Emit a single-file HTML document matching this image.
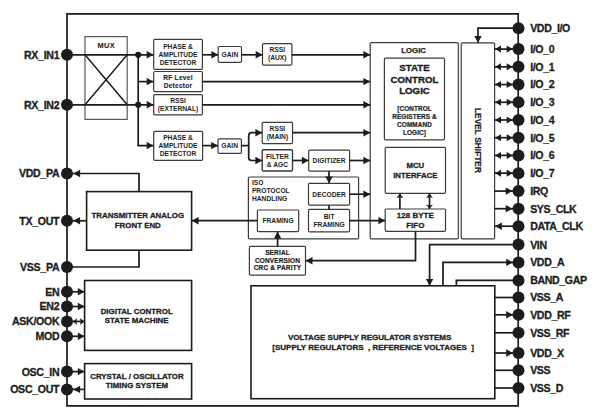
<!DOCTYPE html>
<html><head><meta charset="utf-8"><style>
html,body{margin:0;padding:0;background:#fff;width:600px;height:415px;overflow:hidden}
svg{display:block}
text{font-family:"Liberation Sans",sans-serif;font-weight:bold;fill:#1e1e1e}
</style></head><body>
<svg width="600" height="415" viewBox="0 0 600 415">
<rect x="85" y="36.6" width="42.20" height="82.80" rx="0" fill="#fff" stroke="#5a5a5a" stroke-width="1.2"/>
<rect x="153.7" y="39.4" width="48.70" height="30.00" rx="1.1" fill="#fff" stroke="#3c3c3c" stroke-width="1.2"/>
<rect x="153.7" y="71.5" width="48.70" height="20.10" rx="1.1" fill="#fff" stroke="#3c3c3c" stroke-width="1.2"/>
<rect x="153.7" y="94.6" width="48.70" height="20.20" rx="1.1" fill="#fff" stroke="#3c3c3c" stroke-width="1.2"/>
<rect x="218.2" y="46.5" width="23.30" height="15.80" rx="1.1" fill="#fff" stroke="#3c3c3c" stroke-width="1.2"/>
<rect x="262.5" y="43.7" width="29.40" height="21.40" rx="1.1" fill="#fff" stroke="#3c3c3c" stroke-width="1.2"/>
<rect x="153.7" y="131.4" width="48.90" height="29.00" rx="1.1" fill="#fff" stroke="#3c3c3c" stroke-width="1.2"/>
<rect x="218" y="138.8" width="23.40" height="14.50" rx="1.1" fill="#fff" stroke="#3c3c3c" stroke-width="1.2"/>
<rect x="262.2" y="122.4" width="30.30" height="21.30" rx="1.1" fill="#fff" stroke="#3c3c3c" stroke-width="1.2"/>
<rect x="262.2" y="149.8" width="30.30" height="21.20" rx="1.1" fill="#fff" stroke="#3c3c3c" stroke-width="1.4"/>
<rect x="308.7" y="150.1" width="40.90" height="21.00" rx="1.1" fill="#fff" stroke="#3c3c3c" stroke-width="1.2"/>
<rect x="248.4" y="177" width="110.20" height="61.80" rx="1.1" fill="none" stroke="#3c3c3c" stroke-width="1.2"/>
<rect x="308.5" y="183.3" width="41.10" height="21.90" rx="1.1" fill="#fff" stroke="#3c3c3c" stroke-width="1.2"/>
<rect x="308.5" y="209.4" width="41.10" height="22.40" rx="1.1" fill="#fff" stroke="#3c3c3c" stroke-width="1.2"/>
<rect x="257.4" y="210" width="41.30" height="21.60" rx="1.1" fill="#fff" stroke="#3c3c3c" stroke-width="1.2"/>
<rect x="249.4" y="246.3" width="56.10" height="28.80" rx="1.1" fill="#fff" stroke="#3c3c3c" stroke-width="1.2"/>
<rect x="370.2" y="42.6" width="88.10" height="196.20" rx="1.1" fill="none" stroke="#3c3c3c" stroke-width="1.2"/>
<rect x="384.4" y="58.1" width="60.10" height="81.80" rx="1.1" fill="#fff" stroke="#3c3c3c" stroke-width="1.2"/>
<rect x="385.2" y="147.3" width="60.30" height="46.10" rx="1.1" fill="#fff" stroke="#3c3c3c" stroke-width="1.2"/>
<rect x="385.2" y="209" width="60.30" height="22.40" rx="1.1" fill="#fff" stroke="#3c3c3c" stroke-width="1.2"/>
<rect x="461.2" y="42.8" width="33.40" height="196.00" rx="1.1" fill="none" stroke="#3c3c3c" stroke-width="1.2"/>
<rect x="86.6" y="191.6" width="105.00" height="58.60" rx="0" fill="#fff" stroke="#1c1c1c" stroke-width="1.6"/>
<rect x="84.6" y="280.5" width="107.00" height="69.90" rx="0" fill="#fff" stroke="#1c1c1c" stroke-width="1.6"/>
<rect x="84.6" y="363.6" width="107.00" height="35.40" rx="0" fill="#fff" stroke="#1c1c1c" stroke-width="1.6"/>
<rect x="251" y="285.8" width="243.80" height="112.90" rx="0" fill="#fff" stroke="#1c1c1c" stroke-width="1.6"/>
<path d="M67,405.9 L67,13.8 L518.2,13.8 L518.2,405.9 Z" fill="none" stroke="#1c1c1c" stroke-width="1.7"/>
<line x1="67" y1="54.8" x2="153.7" y2="54.8" stroke="#1c1c1c" stroke-width="1.7"/>
<line x1="67" y1="104.8" x2="153.7" y2="104.8" stroke="#1c1c1c" stroke-width="1.7"/>
<line x1="85" y1="54.8" x2="127.2" y2="104.8" stroke="#1c1c1c" stroke-width="1.45"/>
<line x1="127.2" y1="54.8" x2="85" y2="104.8" stroke="#1c1c1c" stroke-width="1.45"/>
<polyline points="138.2,54.8 138.2,145.6 153.7,145.6" fill="none" stroke="#1c1c1c" stroke-width="1.7" stroke-linejoin="miter"/>
<line x1="138.2" y1="81.6" x2="153.7" y2="81.6" stroke="#1c1c1c" stroke-width="1.7"/>
<polygon points="153.50,54.80 146.70,51.10 146.70,54.80 146.70,58.50" fill="#1c1c1c"/>
<polygon points="153.50,81.60 146.70,77.90 146.70,81.60 146.70,85.30" fill="#1c1c1c"/>
<polygon points="153.50,104.80 146.70,101.10 146.70,104.80 146.70,108.50" fill="#1c1c1c"/>
<polygon points="153.50,145.60 146.70,141.90 146.70,145.60 146.70,149.30" fill="#1c1c1c"/>
<line x1="202.4" y1="54.8" x2="218.2" y2="54.8" stroke="#1c1c1c" stroke-width="1.7"/>
<polygon points="218.20,54.80 211.40,51.10 211.40,54.80 211.40,58.50" fill="#1c1c1c"/>
<line x1="241.5" y1="54.8" x2="262.5" y2="54.8" stroke="#1c1c1c" stroke-width="1.7"/>
<polygon points="262.50,54.80 255.70,51.10 255.70,54.80 255.70,58.50" fill="#1c1c1c"/>
<line x1="291.9" y1="54.8" x2="370.2" y2="54.8" stroke="#1c1c1c" stroke-width="1.7"/>
<polygon points="370.20,54.80 363.40,51.10 363.40,54.80 363.40,58.50" fill="#1c1c1c"/>
<line x1="202.4" y1="81.6" x2="370.2" y2="81.6" stroke="#1c1c1c" stroke-width="1.7"/>
<polygon points="370.20,81.60 363.40,77.90 363.40,81.60 363.40,85.30" fill="#1c1c1c"/>
<line x1="202.4" y1="104.8" x2="370.2" y2="104.8" stroke="#1c1c1c" stroke-width="1.7"/>
<polygon points="370.20,104.80 363.40,101.10 363.40,104.80 363.40,108.50" fill="#1c1c1c"/>
<line x1="202.6" y1="145.6" x2="218" y2="145.6" stroke="#1c1c1c" stroke-width="1.7"/>
<polygon points="218.00,145.60 211.20,141.90 211.20,145.60 211.20,149.30" fill="#1c1c1c"/>
<line x1="241.4" y1="145.6" x2="248.7" y2="145.6" stroke="#1c1c1c" stroke-width="1.7"/>
<path d="M262.2,132.7 L251.70,132.70 Q248.7,132.7 248.70,135.70 L248.70,157.50 Q248.7,160.5 251.70,160.50 L262.2,160.5" fill="none" stroke="#1c1c1c" stroke-width="1.7"/>
<polygon points="262.20,132.70 255.40,129.00 255.40,132.70 255.40,136.40" fill="#1c1c1c"/>
<polygon points="262.20,160.50 255.40,156.80 255.40,160.50 255.40,164.20" fill="#1c1c1c"/>
<line x1="292.5" y1="132.7" x2="370.2" y2="132.7" stroke="#1c1c1c" stroke-width="1.7"/>
<polygon points="370.20,132.70 363.40,129.00 363.40,132.70 363.40,136.40" fill="#1c1c1c"/>
<line x1="292.5" y1="160.5" x2="308.7" y2="160.5" stroke="#1c1c1c" stroke-width="1.7"/>
<polygon points="308.70,160.50 301.90,156.80 301.90,160.50 301.90,164.20" fill="#1c1c1c"/>
<line x1="349.6" y1="160.5" x2="370.2" y2="160.5" stroke="#1c1c1c" stroke-width="1.7"/>
<polygon points="370.20,160.50 363.40,156.80 363.40,160.50 363.40,164.20" fill="#1c1c1c"/>
<line x1="329" y1="171.1" x2="329" y2="183.3" stroke="#1c1c1c" stroke-width="1.7"/>
<polygon points="329.00,183.30 325.30,176.50 329.00,176.50 332.70,176.50" fill="#1c1c1c"/>
<line x1="349.6" y1="194.2" x2="370.2" y2="194.2" stroke="#1c1c1c" stroke-width="1.7"/>
<polygon points="370.20,194.20 363.40,190.50 363.40,194.20 363.40,197.90" fill="#1c1c1c"/>
<line x1="329" y1="205.2" x2="329" y2="209.4" stroke="#1c1c1c" stroke-width="1.7"/>
<line x1="349.6" y1="220.6" x2="385.2" y2="220.6" stroke="#1c1c1c" stroke-width="1.7"/>
<polygon points="385.20,220.60 378.40,216.90 378.40,220.60 378.40,224.30" fill="#1c1c1c"/>
<line x1="191.6" y1="220.6" x2="257.4" y2="220.6" stroke="#1c1c1c" stroke-width="1.7"/>
<polygon points="191.80,220.80 198.60,217.10 198.60,220.80 198.60,224.50" fill="#1c1c1c"/>
<line x1="277.6" y1="246.3" x2="277.6" y2="231.6" stroke="#1c1c1c" stroke-width="1.7"/>
<polygon points="277.60,231.60 273.90,238.40 277.60,238.40 281.30,238.40" fill="#1c1c1c"/>
<polyline points="415.5,231.4 415.5,260.7 305.5,260.7" fill="none" stroke="#1c1c1c" stroke-width="1.7" stroke-linejoin="miter"/>
<polygon points="305.70,260.70 312.50,257.00 312.50,260.70 312.50,264.40" fill="#1c1c1c"/>
<line x1="399.9" y1="209" x2="399.9" y2="193.4" stroke="#1c1c1c" stroke-width="1.7"/>
<polygon points="399.90,193.50 396.50,198.10 399.90,197.20 403.30,198.10" fill="#1c1c1c"/>
<line x1="429.5" y1="209" x2="429.5" y2="193.4" stroke="#1c1c1c" stroke-width="1.7"/>
<polygon points="429.50,193.50 426.10,197.90 429.50,197.00 432.90,197.90" fill="#1c1c1c"/>
<polygon points="429.50,208.70 426.10,204.70 429.50,205.60 432.90,204.70" fill="#1c1c1c"/>
<polyline points="518,28.2 478,28.2 478,42.8" fill="none" stroke="#1c1c1c" stroke-width="1.7" stroke-linejoin="miter"/>
<polygon points="478.00,42.80 474.30,36.00 478.00,36.00 481.70,36.00" fill="#1c1c1c"/>
<line x1="494.6" y1="49.1" x2="518" y2="49.1" stroke="#1c1c1c" stroke-width="1.7"/>
<polygon points="495.00,49.10 501.00,45.60 501.00,49.10 501.00,52.60" fill="#1c1c1c"/>
<polygon points="512.70,49.10 506.70,45.60 506.70,49.10 506.70,52.60" fill="#1c1c1c"/>
<line x1="494.6" y1="66.82" x2="518" y2="66.82" stroke="#1c1c1c" stroke-width="1.7"/>
<polygon points="495.00,66.82 501.00,63.32 501.00,66.82 501.00,70.32" fill="#1c1c1c"/>
<polygon points="512.70,66.82 506.70,63.32 506.70,66.82 506.70,70.32" fill="#1c1c1c"/>
<line x1="494.6" y1="84.53999999999999" x2="518" y2="84.53999999999999" stroke="#1c1c1c" stroke-width="1.7"/>
<polygon points="495.00,84.54 501.00,81.04 501.00,84.54 501.00,88.04" fill="#1c1c1c"/>
<polygon points="512.70,84.54 506.70,81.04 506.70,84.54 506.70,88.04" fill="#1c1c1c"/>
<line x1="494.6" y1="102.25999999999999" x2="518" y2="102.25999999999999" stroke="#1c1c1c" stroke-width="1.7"/>
<polygon points="495.00,102.26 501.00,98.76 501.00,102.26 501.00,105.76" fill="#1c1c1c"/>
<polygon points="512.70,102.26 506.70,98.76 506.70,102.26 506.70,105.76" fill="#1c1c1c"/>
<line x1="494.6" y1="119.97999999999999" x2="518" y2="119.97999999999999" stroke="#1c1c1c" stroke-width="1.7"/>
<polygon points="495.00,119.98 501.00,116.48 501.00,119.98 501.00,123.48" fill="#1c1c1c"/>
<polygon points="512.70,119.98 506.70,116.48 506.70,119.98 506.70,123.48" fill="#1c1c1c"/>
<line x1="494.6" y1="137.7" x2="518" y2="137.7" stroke="#1c1c1c" stroke-width="1.7"/>
<polygon points="495.00,137.70 501.00,134.20 501.00,137.70 501.00,141.20" fill="#1c1c1c"/>
<polygon points="512.70,137.70 506.70,134.20 506.70,137.70 506.70,141.20" fill="#1c1c1c"/>
<line x1="494.6" y1="155.42" x2="518" y2="155.42" stroke="#1c1c1c" stroke-width="1.7"/>
<polygon points="495.00,155.42 501.00,151.92 501.00,155.42 501.00,158.92" fill="#1c1c1c"/>
<polygon points="512.70,155.42 506.70,151.92 506.70,155.42 506.70,158.92" fill="#1c1c1c"/>
<line x1="494.6" y1="173.14" x2="518" y2="173.14" stroke="#1c1c1c" stroke-width="1.7"/>
<polygon points="495.00,173.14 501.00,169.64 501.00,173.14 501.00,176.64" fill="#1c1c1c"/>
<polygon points="512.70,173.14 506.70,169.64 506.70,173.14 506.70,176.64" fill="#1c1c1c"/>
<line x1="494.6" y1="191.1" x2="518" y2="191.1" stroke="#1c1c1c" stroke-width="1.7"/>
<polygon points="512.50,191.10 505.70,187.40 505.70,191.10 505.70,194.80" fill="#1c1c1c"/>
<line x1="494.6" y1="208.7" x2="518" y2="208.7" stroke="#1c1c1c" stroke-width="1.7"/>
<polygon points="512.50,208.70 505.70,205.00 505.70,208.70 505.70,212.40" fill="#1c1c1c"/>
<line x1="494.6" y1="226.2" x2="518" y2="226.2" stroke="#1c1c1c" stroke-width="1.7"/>
<polygon points="495.00,226.20 501.80,222.50 501.80,226.20 501.80,229.90" fill="#1c1c1c"/>
<polyline points="139,191.6 139,173.5 67,173.5" fill="none" stroke="#1c1c1c" stroke-width="1.7" stroke-linejoin="miter"/>
<polygon points="73.30,173.50 80.10,169.80 80.10,173.50 80.10,177.20" fill="#1c1c1c"/>
<polyline points="139,250.2 139,267 67,267" fill="none" stroke="#1c1c1c" stroke-width="1.7" stroke-linejoin="miter"/>
<line x1="67" y1="220.8" x2="86.6" y2="220.8" stroke="#1c1c1c" stroke-width="1.7"/>
<polygon points="73.30,220.80 80.10,217.10 80.10,220.80 80.10,224.50" fill="#1c1c1c"/>
<line x1="67" y1="291.8" x2="84.6" y2="291.8" stroke="#1c1c1c" stroke-width="1.7"/>
<polygon points="84.60,291.80 77.80,288.10 77.80,291.80 77.80,295.50" fill="#1c1c1c"/>
<line x1="67" y1="306.5" x2="84.6" y2="306.5" stroke="#1c1c1c" stroke-width="1.7"/>
<polygon points="84.60,306.50 77.80,302.80 77.80,306.50 77.80,310.20" fill="#1c1c1c"/>
<line x1="67" y1="321.4" x2="84.6" y2="321.4" stroke="#1c1c1c" stroke-width="1.7"/>
<polygon points="84.40,321.40 80.00,317.90 80.70,321.40 80.00,324.90" fill="#1c1c1c"/>
<polygon points="73.20,321.40 77.00,317.90 76.30,321.40 77.00,324.90" fill="#1c1c1c"/>
<line x1="67" y1="336.3" x2="84.6" y2="336.3" stroke="#1c1c1c" stroke-width="1.7"/>
<polygon points="84.60,336.30 77.80,332.60 77.80,336.30 77.80,340.00" fill="#1c1c1c"/>
<line x1="67" y1="371.6" x2="84.6" y2="371.6" stroke="#1c1c1c" stroke-width="1.7"/>
<polygon points="84.60,371.60 77.80,367.90 77.80,371.60 77.80,375.30" fill="#1c1c1c"/>
<line x1="67" y1="389.4" x2="84.6" y2="389.4" stroke="#1c1c1c" stroke-width="1.7"/>
<polygon points="73.30,389.40 80.10,385.70 80.10,389.40 80.10,393.10" fill="#1c1c1c"/>
<polyline points="518,244.6 429.6,244.6 429.6,285.8" fill="none" stroke="#1c1c1c" stroke-width="1.7" stroke-linejoin="miter"/>
<polygon points="429.60,285.80 425.90,279.00 429.60,279.00 433.30,279.00" fill="#1c1c1c"/>
<polyline points="443,285.8 443,262.4 518,262.4" fill="none" stroke="#1c1c1c" stroke-width="1.7" stroke-linejoin="miter"/>
<polygon points="513.00,262.40 506.20,258.70 506.20,262.40 506.20,266.10" fill="#1c1c1c"/>
<polyline points="456.4,285.8 456.4,280.4 518,280.4" fill="none" stroke="#1c1c1c" stroke-width="1.7" stroke-linejoin="miter"/>
<line x1="494.8" y1="297.5" x2="518" y2="297.5" stroke="#1c1c1c" stroke-width="1.7"/>
<line x1="494.8" y1="314.8" x2="518" y2="314.8" stroke="#1c1c1c" stroke-width="1.7"/>
<line x1="494.8" y1="332.8" x2="518" y2="332.8" stroke="#1c1c1c" stroke-width="1.7"/>
<line x1="494.8" y1="353" x2="518" y2="353" stroke="#1c1c1c" stroke-width="1.7"/>
<line x1="494.8" y1="370.3" x2="518" y2="370.3" stroke="#1c1c1c" stroke-width="1.7"/>
<line x1="494.8" y1="388" x2="518" y2="388" stroke="#1c1c1c" stroke-width="1.7"/>
<polygon points="513.00,314.80 506.20,311.10 506.20,314.80 506.20,318.50" fill="#1c1c1c"/>
<polygon points="513.00,353.00 506.20,349.30 506.20,353.00 506.20,356.70" fill="#1c1c1c"/>
<circle cx="138.2" cy="54.8" r="3.1" fill="#1c1c1c"/>
<circle cx="138.2" cy="104.8" r="3.1" fill="#1c1c1c"/>
<circle cx="67" cy="54.8" r="6.0" fill="#1c1c1c"/>
<circle cx="67" cy="104.8" r="6.0" fill="#1c1c1c"/>
<circle cx="67" cy="173.5" r="6.0" fill="#1c1c1c"/>
<circle cx="67" cy="220.8" r="6.0" fill="#1c1c1c"/>
<circle cx="67" cy="267" r="6.0" fill="#1c1c1c"/>
<circle cx="67" cy="291.8" r="6.0" fill="#1c1c1c"/>
<circle cx="67" cy="306.5" r="6.0" fill="#1c1c1c"/>
<circle cx="67" cy="321.4" r="6.0" fill="#1c1c1c"/>
<circle cx="67" cy="336.3" r="6.0" fill="#1c1c1c"/>
<circle cx="67" cy="371.6" r="6.0" fill="#1c1c1c"/>
<circle cx="67" cy="389.4" r="6.0" fill="#1c1c1c"/>
<circle cx="518.5" cy="28.2" r="6.0" fill="#1c1c1c"/>
<circle cx="518.5" cy="49.1" r="6.0" fill="#1c1c1c"/>
<circle cx="518.5" cy="66.82" r="6.0" fill="#1c1c1c"/>
<circle cx="518.5" cy="84.53999999999999" r="6.0" fill="#1c1c1c"/>
<circle cx="518.5" cy="102.25999999999999" r="6.0" fill="#1c1c1c"/>
<circle cx="518.5" cy="119.97999999999999" r="6.0" fill="#1c1c1c"/>
<circle cx="518.5" cy="137.7" r="6.0" fill="#1c1c1c"/>
<circle cx="518.5" cy="155.42" r="6.0" fill="#1c1c1c"/>
<circle cx="518.5" cy="173.14" r="6.0" fill="#1c1c1c"/>
<circle cx="518.5" cy="191.1" r="6.0" fill="#1c1c1c"/>
<circle cx="518.5" cy="208.7" r="6.0" fill="#1c1c1c"/>
<circle cx="518.5" cy="226.2" r="6.0" fill="#1c1c1c"/>
<circle cx="518.5" cy="244.6" r="6.0" fill="#1c1c1c"/>
<circle cx="518.5" cy="262.4" r="6.0" fill="#1c1c1c"/>
<circle cx="518.5" cy="280.4" r="6.0" fill="#1c1c1c"/>
<circle cx="518.5" cy="297.5" r="6.0" fill="#1c1c1c"/>
<circle cx="518.5" cy="314.8" r="6.0" fill="#1c1c1c"/>
<circle cx="518.5" cy="332.8" r="6.0" fill="#1c1c1c"/>
<circle cx="518.5" cy="353" r="6.0" fill="#1c1c1c"/>
<circle cx="518.5" cy="370.3" r="6.0" fill="#1c1c1c"/>
<circle cx="518.5" cy="388" r="6.0" fill="#1c1c1c"/>
<text x="106.2" y="47.55" font-size="7.4" text-anchor="middle" stroke="#1e1e1e" stroke-width="0.1" letter-spacing="0.35">MUX</text>
<text x="178" y="49.30" font-size="6.7" text-anchor="middle">PHASE &amp;</text>
<text x="178" y="57.10" font-size="6.7" text-anchor="middle">AMPLITUDE</text>
<text x="178" y="64.80" font-size="6.7" text-anchor="middle">DETECTOR</text>
<text x="178" y="80.16" font-size="6.6" text-anchor="middle" stroke="#1e1e1e" stroke-width="0.12" letter-spacing="0.25">RF Level</text>
<text x="178" y="87.96" font-size="6.6" text-anchor="middle" stroke="#1e1e1e" stroke-width="0.12" letter-spacing="0.25">Detector</text>
<text x="178" y="103.30" font-size="6.7" text-anchor="middle">RSSI</text>
<text x="178" y="111.00" font-size="6.7" text-anchor="middle">(EXTERNAL)</text>
<text x="229.9" y="56.70" font-size="6.7" text-anchor="middle">GAIN</text>
<text x="277.2" y="52.30" font-size="6.7" text-anchor="middle">RSSI</text>
<text x="277.2" y="60.40" font-size="6.7" text-anchor="middle">(AUX)</text>
<text x="178" y="140.00" font-size="6.7" text-anchor="middle">PHASE &amp;</text>
<text x="178" y="147.80" font-size="6.7" text-anchor="middle">AMPLITUDE</text>
<text x="178" y="155.50" font-size="6.7" text-anchor="middle">DETECTOR</text>
<text x="229.7" y="148.20" font-size="6.7" text-anchor="middle">GAIN</text>
<text x="277.4" y="130.90" font-size="6.7" text-anchor="middle">RSSI</text>
<text x="277.4" y="138.60" font-size="6.7" text-anchor="middle">(MAIN)</text>
<text x="277.4" y="159.30" font-size="6.7" text-anchor="middle">FILTER</text>
<text x="277.4" y="166.80" font-size="6.7" text-anchor="middle">&amp; AGC</text>
<text x="329.1" y="162.90" font-size="6.7" text-anchor="middle">DIGITIZER</text>
<text x="251.9" y="185.00" font-size="6.7" text-anchor="start">ISO</text>
<text x="251.9" y="193.00" font-size="6.7" text-anchor="start">PROTOCOL</text>
<text x="251.9" y="201.00" font-size="6.7" text-anchor="start">HANDLING</text>
<text x="329.1" y="196.60" font-size="6.7" text-anchor="middle">DECODER</text>
<text x="329.1" y="218.90" font-size="6.7" text-anchor="middle">BIT</text>
<text x="329.1" y="226.90" font-size="6.7" text-anchor="middle">FRAMING</text>
<text x="278" y="223.00" font-size="6.7" text-anchor="middle">FRAMING</text>
<text x="277.5" y="254.63" font-size="6.5" text-anchor="middle" stroke="#1e1e1e" stroke-width="0.2" letter-spacing="0.15">SERIAL</text>
<text x="277.5" y="262.53" font-size="6.5" text-anchor="middle" stroke="#1e1e1e" stroke-width="0.2" letter-spacing="0.15">CONVERSION</text>
<text x="277.5" y="270.13" font-size="6.5" text-anchor="middle" stroke="#1e1e1e" stroke-width="0.2" letter-spacing="0.15">CRC &amp; PARITY</text>
<text x="413.6" y="53.19" font-size="7.8" text-anchor="middle" stroke="#1e1e1e" stroke-width="0.25">LOGIC</text>
<text x="414.5" y="70.97" font-size="9.7" text-anchor="middle" stroke="#1e1e1e" stroke-width="0.35">STATE</text>
<text x="414.5" y="82.57" font-size="9.7" text-anchor="middle" stroke="#1e1e1e" stroke-width="0.35">CONTROL</text>
<text x="414.5" y="94.17" font-size="9.7" text-anchor="middle" stroke="#1e1e1e" stroke-width="0.35">LOGIC</text>
<text x="414.5" y="111.29" font-size="6.4" text-anchor="middle" stroke="#1e1e1e" stroke-width="0.2" letter-spacing="0.1">[CONTROL</text>
<text x="414.5" y="119.19" font-size="6.4" text-anchor="middle" stroke="#1e1e1e" stroke-width="0.2" letter-spacing="0.1">REGISTERS &amp;</text>
<text x="414.5" y="126.99" font-size="6.4" text-anchor="middle" stroke="#1e1e1e" stroke-width="0.2" letter-spacing="0.1">COMMAND</text>
<text x="414.5" y="134.59" font-size="6.4" text-anchor="middle" stroke="#1e1e1e" stroke-width="0.2" letter-spacing="0.1">LOGIC]</text>
<text x="415.3" y="168.39" font-size="7.8" text-anchor="middle" stroke="#1e1e1e" stroke-width="0.3">MCU</text>
<text x="415.3" y="177.59" font-size="7.8" text-anchor="middle" stroke="#1e1e1e" stroke-width="0.3">INTERFACE</text>
<text x="415.3" y="217.86" font-size="8.0" text-anchor="middle" stroke="#1e1e1e" stroke-width="0.3">128 BYTE</text>
<text x="415.3" y="227.96" font-size="8.0" text-anchor="middle" stroke="#1e1e1e" stroke-width="0.3">FIFO</text>
<text x="0" y="0" font-size="8.4" text-anchor="middle" stroke="#1e1e1e" stroke-width="0.2" transform="translate(475.0,140.5) rotate(90)">LEVEL SHIFTER</text>
<text x="137.8" y="217.83" font-size="7.9" text-anchor="middle" stroke="#1e1e1e" stroke-width="0.3">TRANSMITTER ANALOG</text>
<text x="137.8" y="227.83" font-size="7.9" text-anchor="middle" stroke="#1e1e1e" stroke-width="0.3">FRONT END</text>
<text x="136.7" y="313.53" font-size="7.9" text-anchor="middle" stroke="#1e1e1e" stroke-width="0.3">DIGITAL CONTROL</text>
<text x="136.7" y="323.13" font-size="7.9" text-anchor="middle" stroke="#1e1e1e" stroke-width="0.3">STATE MACHINE</text>
<text x="136.9" y="378.53" font-size="7.9" text-anchor="middle" stroke="#1e1e1e" stroke-width="0.3">CRYSTAL / OSCILLATOR</text>
<text x="136.9" y="388.23" font-size="7.9" text-anchor="middle" stroke="#1e1e1e" stroke-width="0.3">TIMING SYSTEM</text>
<text x="369.6" y="339.76" font-size="8.0" text-anchor="middle" stroke="#1e1e1e" stroke-width="0.3">VOLTAGE SUPPLY REGULATOR SYSTEMS</text>
<text x="373.1" y="349.56" font-size="8.0" text-anchor="middle" stroke="#1e1e1e" stroke-width="0.3" xml:space="preserve">[SUPPLY REGULATORS  , REFERENCE VOLTAGES  ]</text>
<text x="59.3" y="58.70" font-size="10.6" text-anchor="end" stroke="#1e1e1e" stroke-width="0.3" letter-spacing="-0.3">RX_IN1</text>
<text x="59.3" y="108.70" font-size="10.6" text-anchor="end" stroke="#1e1e1e" stroke-width="0.3" letter-spacing="-0.3">RX_IN2</text>
<text x="59.3" y="177.40" font-size="10.6" text-anchor="end" stroke="#1e1e1e" stroke-width="0.3" letter-spacing="-0.3">VDD_PA</text>
<text x="59.3" y="224.70" font-size="10.6" text-anchor="end" stroke="#1e1e1e" stroke-width="0.3" letter-spacing="-0.3">TX_OUT</text>
<text x="59.3" y="270.90" font-size="10.6" text-anchor="end" stroke="#1e1e1e" stroke-width="0.3" letter-spacing="-0.3">VSS_PA</text>
<text x="59.3" y="295.70" font-size="10.6" text-anchor="end" stroke="#1e1e1e" stroke-width="0.3" letter-spacing="-0.3">EN</text>
<text x="59.3" y="310.40" font-size="10.6" text-anchor="end" stroke="#1e1e1e" stroke-width="0.3" letter-spacing="-0.3">EN2</text>
<text x="59.3" y="325.30" font-size="10.6" text-anchor="end" stroke="#1e1e1e" stroke-width="0.3" letter-spacing="-0.3">ASK/OOK</text>
<text x="59.3" y="340.20" font-size="10.6" text-anchor="end" stroke="#1e1e1e" stroke-width="0.3" letter-spacing="-0.3">MOD</text>
<text x="59.3" y="375.50" font-size="10.6" text-anchor="end" stroke="#1e1e1e" stroke-width="0.3" letter-spacing="-0.3">OSC_IN</text>
<text x="59.3" y="393.30" font-size="10.6" text-anchor="end" stroke="#1e1e1e" stroke-width="0.3" letter-spacing="-0.3">OSC_OUT</text>
<text x="530.2" y="32.10" font-size="10.6" text-anchor="start" stroke="#1e1e1e" stroke-width="0.3" letter-spacing="-0.38">VDD_I/O</text>
<text x="530.2" y="53.00" font-size="10.6" text-anchor="start" stroke="#1e1e1e" stroke-width="0.3" letter-spacing="-0.38">I/O_0</text>
<text x="530.2" y="70.72" font-size="10.6" text-anchor="start" stroke="#1e1e1e" stroke-width="0.3" letter-spacing="-0.38">I/O_1</text>
<text x="530.2" y="88.44" font-size="10.6" text-anchor="start" stroke="#1e1e1e" stroke-width="0.3" letter-spacing="-0.38">I/O_2</text>
<text x="530.2" y="106.16" font-size="10.6" text-anchor="start" stroke="#1e1e1e" stroke-width="0.3" letter-spacing="-0.38">I/O_3</text>
<text x="530.2" y="123.88" font-size="10.6" text-anchor="start" stroke="#1e1e1e" stroke-width="0.3" letter-spacing="-0.38">I/O_4</text>
<text x="530.2" y="141.60" font-size="10.6" text-anchor="start" stroke="#1e1e1e" stroke-width="0.3" letter-spacing="-0.38">I/O_5</text>
<text x="530.2" y="159.32" font-size="10.6" text-anchor="start" stroke="#1e1e1e" stroke-width="0.3" letter-spacing="-0.38">I/O_6</text>
<text x="530.2" y="177.04" font-size="10.6" text-anchor="start" stroke="#1e1e1e" stroke-width="0.3" letter-spacing="-0.38">I/O_7</text>
<text x="530.2" y="195.00" font-size="10.6" text-anchor="start" stroke="#1e1e1e" stroke-width="0.3" letter-spacing="-0.38">IRQ</text>
<text x="530.2" y="212.60" font-size="10.6" text-anchor="start" stroke="#1e1e1e" stroke-width="0.3" letter-spacing="-0.38">SYS_CLK</text>
<text x="530.2" y="230.10" font-size="10.6" text-anchor="start" stroke="#1e1e1e" stroke-width="0.3" letter-spacing="-0.38">DATA_CLK</text>
<text x="530.2" y="248.50" font-size="10.6" text-anchor="start" stroke="#1e1e1e" stroke-width="0.3" letter-spacing="-0.38">VIN</text>
<text x="530.2" y="266.30" font-size="10.6" text-anchor="start" stroke="#1e1e1e" stroke-width="0.3" letter-spacing="-0.38">VDD_A</text>
<text x="530.2" y="284.30" font-size="10.6" text-anchor="start" stroke="#1e1e1e" stroke-width="0.3" letter-spacing="-0.38">BAND_GAP</text>
<text x="530.2" y="301.40" font-size="10.6" text-anchor="start" stroke="#1e1e1e" stroke-width="0.3" letter-spacing="-0.38">VSS_A</text>
<text x="530.2" y="318.70" font-size="10.6" text-anchor="start" stroke="#1e1e1e" stroke-width="0.3" letter-spacing="-0.38">VDD_RF</text>
<text x="530.2" y="336.70" font-size="10.6" text-anchor="start" stroke="#1e1e1e" stroke-width="0.3" letter-spacing="-0.38">VSS_RF</text>
<text x="530.2" y="356.90" font-size="10.6" text-anchor="start" stroke="#1e1e1e" stroke-width="0.3" letter-spacing="-0.38">VDD_X</text>
<text x="530.2" y="374.20" font-size="10.6" text-anchor="start" stroke="#1e1e1e" stroke-width="0.3" letter-spacing="-0.38">VSS</text>
<text x="530.2" y="391.90" font-size="10.6" text-anchor="start" stroke="#1e1e1e" stroke-width="0.3" letter-spacing="-0.38">VSS_D</text>
</svg></body></html>
